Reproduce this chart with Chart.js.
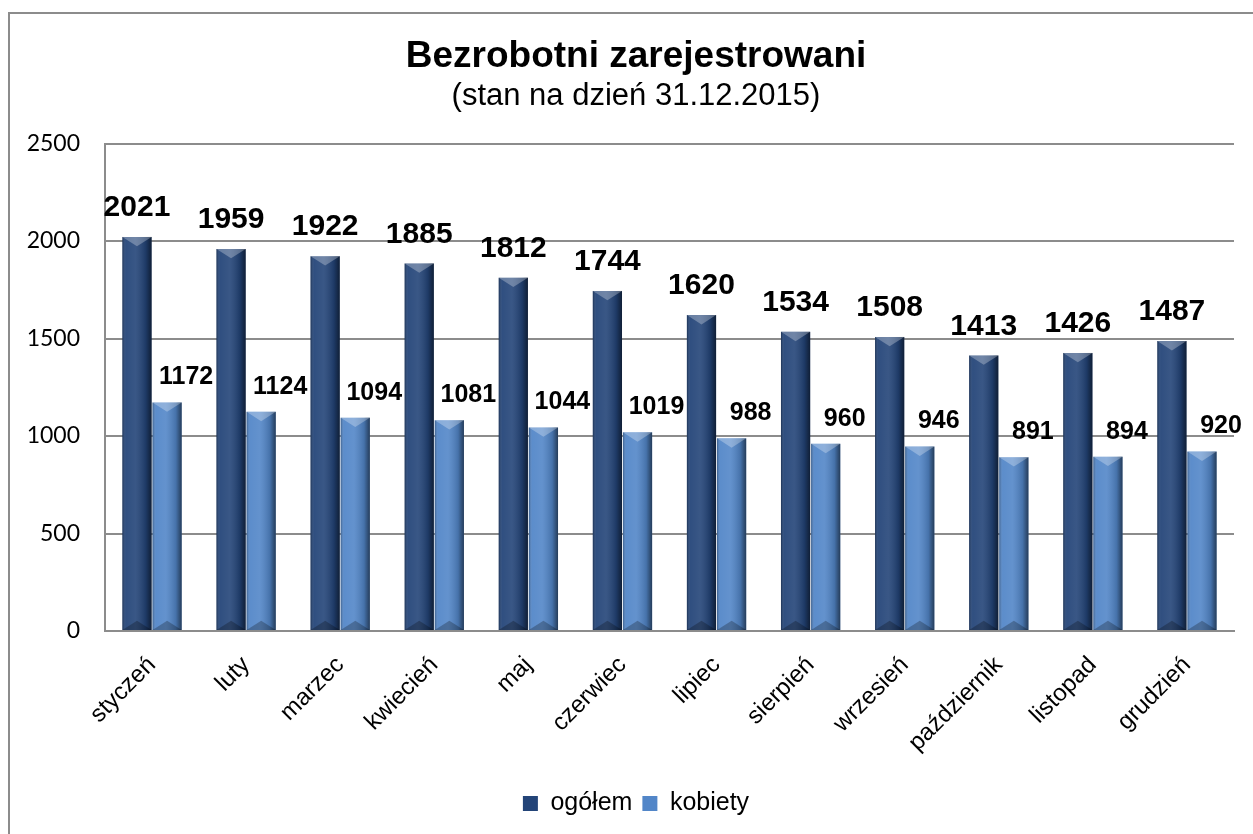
<!DOCTYPE html>
<html lang="pl">
<head>
<meta charset="utf-8">
<title>Bezrobotni zarejestrowani</title>
<script src="https://cdn.jsdelivr.net/npm/chart.js@4/dist/chart.umd.min.js"></script>
<style>
  html, body { margin: 0; padding: 0; background: #fff; overflow: hidden; }
  #wrap { width: 1253px; height: 834px; position: relative; }
</style>
</head>
<body>
<div id="wrap"><canvas id="wykres"></canvas></div>
<script>
// ---- dane ----
const miesiace = ['styczeń','luty','marzec','kwiecień','maj','czerwiec',
                  'lipiec','sierpień','wrzesień','październik','listopad','grudzień'];
const ogolem  = [2021, 1959, 1922, 1885, 1812, 1744, 1620, 1534, 1508, 1413, 1426, 1487];
const kobiety = [1172, 1124, 1094, 1081, 1044, 1019,  988,  960,  946,  891,  894,  920];
const osY = [0, 500, 1000, 1500, 2000, 2500];

const SZARY = '#8c8c8c';
const ARIAL = '"Liberation Sans", Arial, sans-serif';

// ---- ramka wykresu ----
const ramka = {
  id: 'ramka',
  // etykiety osi Y wychodzą poza margines - poszerzamy obszar przycinania
  afterLayout(chart) { chart.scales.y.left = 8; },
  beforeDraw(chart) {
    const c = chart.ctx;
    c.save();
    c.strokeStyle = SZARY;
    c.lineWidth = 2;
    c.beginPath();
    c.moveTo(9, chart.height + 5);
    c.lineTo(9, 13);
    c.lineTo(chart.width + 5, 13);
    c.stroke();
    c.restore();
  }
};

// ---- cieniowanie słupków (efekt 3D) ----
const cieniowanie = {
  id: 'cieniowanie',
  afterDatasetDraw(chart, args) {
    const c = chart.ctx;
    c.save();
    args.meta.data.forEach(bar => {
      const { x, y, base, width } = bar.getProps(['x', 'y', 'base', 'width'], true);
      const l = x - width / 2, r = x + width / 2, h = base - y;
      const g = c.createLinearGradient(l, 0, r, 0);
      g.addColorStop(0,    'rgba(0,0,0,0.30)');
      g.addColorStop(0.12, 'rgba(255,255,255,0.06)');
      g.addColorStop(0.45, 'rgba(255,255,255,0.10)');
      g.addColorStop(0.80, 'rgba(0,0,0,0.15)');
      g.addColorStop(1,    'rgba(0,0,0,0.55)');
      c.fillStyle = g;
      c.fillRect(l, y, width, h);
      const d = width * 0.32;
      c.fillStyle = 'rgba(255,255,255,0.28)';
      c.beginPath(); c.moveTo(l, y); c.lineTo(r, y); c.lineTo(x, y + d); c.closePath(); c.fill();
      c.fillStyle = 'rgba(0,0,0,0.25)';
      c.beginPath(); c.moveTo(l, base); c.lineTo(r, base); c.lineTo(x, base - d); c.closePath(); c.fill();
    });
    c.restore();
  }
};

// ---- etykiety wartości ----
const etykiety = {
  id: 'etykiety',
  afterDatasetsDraw(chart) {
    const c = chart.ctx;
    c.save();
    c.fillStyle = '#000';
    c.textBaseline = 'middle';
    c.textAlign = 'center';
    chart.data.datasets.forEach((ds, i) => {
      const meta = chart.getDatasetMeta(i);
      c.font = ds.etykieta.font;
      meta.data.forEach((bar, j) => {
        c.fillText(String(ds.data[j]), bar.x + ds.etykieta.dx, bar.y - ds.etykieta.dy);
      });
    });
    c.restore();
  }
};

new Chart(document.getElementById('wykres').getContext('2d'), {
  type: 'bar',
  data: {
    labels: miesiace,
    datasets: [
      { label: 'ogółem', data: ogolem, backgroundColor: '#234478', borderWidth: 0,
        etykieta: { font: 'bold 30px ' + ARIAL, dx: 0, dy: 29 } },
      { label: 'kobiety', data: kobiety, backgroundColor: '#5286c8', borderWidth: 0,
        etykieta: { font: 'bold 25px ' + ARIAL, dx: 19, dy: 25 } },
    ]
  },
  plugins: [ramka, cieniowanie, etykiety],
  options: {
    responsive: true,
    maintainAspectRatio: false,
    animation: false,
    datasets: { bar: { categoryPercentage: 0.64, barPercentage: 0.97 } },
    // lewy margines większy, żeby tytuł i legenda były w środku ramki
    layout: { padding: { left: 38, right: 19, top: 0, bottom: 8 } },
    plugins: {
      title: {
        display: true,
        text: 'Bezrobotni zarejestrowani',
        color: '#000',
        font: { family: ARIAL, size: 37, weight: 'bold', lineHeight: 1.2 },
        padding: { top: 35, bottom: 0 }
      },
      subtitle: {
        display: true,
        text: '(stan na dzień 31.12.2015)',
        color: '#000',
        font: { family: ARIAL, size: 31, lineHeight: 1.1 },
        padding: { top: 0, bottom: 30 }
      },
      legend: {
        position: 'bottom',
        labels: {
          color: '#000',
          boxWidth: 15, boxHeight: 15,
          padding: 10,
          font: { family: ARIAL, size: 25 }
        }
      },
      tooltip: { enabled: false }
    },
    scales: {
      x: {
        grid: { display: false },
        border: { color: SZARY, width: 2 },
        ticks: {
          color: '#000', minRotation: 45, maxRotation: 45, padding: 12,
          font: { family: ARIAL, size: 24 }
        },
        afterFit(s) { s.height = 150; }
      },
      y: {
        min: 0, max: 2500,
        afterBuildTicks(s) { s.ticks = osY.map(v => ({ value: v })); },
        grid: { color: SZARY, lineWidth: 2, drawTicks: false },
        border: { color: SZARY, width: 2 },
        ticks: {
          color: '#000', padding: 25,
          callback: v => String(v),
          font: { family: 'Lato, "Liberation Sans", sans-serif', size: 23 }
        },
        afterFit(s) { s.width = 67; }
      }
    }
  }
});
</script>
</body>
</html>
